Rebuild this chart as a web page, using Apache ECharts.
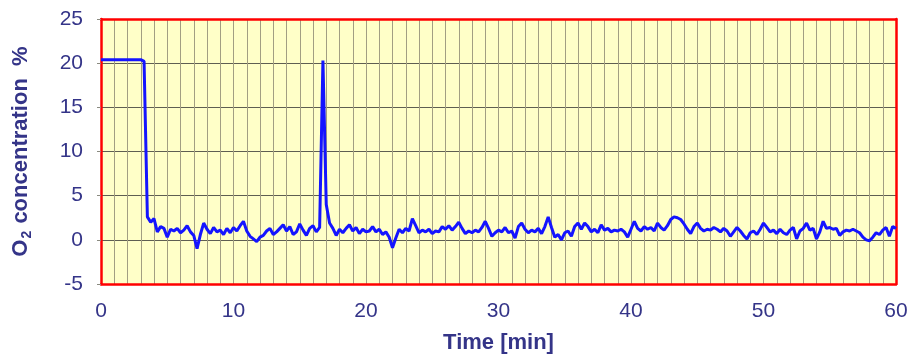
<!DOCTYPE html>
<html>
<head>
<meta charset="utf-8">
<title>O2 concentration</title>
<script src="https://cdn.jsdelivr.net/npm/echarts@6/dist/echarts.min.js"></script>
<style>
  html, body { margin: 0; padding: 0; background: #fff; }
  #chart { width: 911px; height: 359px; }
</style>
</head>
<body>
<div id="chart"></div>
<script>
  // sampling step of the trace, minutes
  var stepMin = 0.25;
  // O2 concentration (%), one row per minute (4 samples each)
  var o2Pct = [
    20.4, 20.4, 20.4, 20.4,   // 0
    20.4, 20.4, 20.4, 20.4,   // 1
    20.4, 20.4, 20.4, 20.4,   // 2
    20.4, 20.2, 2.6, 2.0,     // 3
    2.4, 0.9, 1.5, 1.3,       // 4
    0.3, 1.2, 1.0, 1.3,       // 5
    0.8, 1.1, 1.6, 0.9,       // 6
    0.5, -1.0, 0.6, 1.9,      // 7
    1.2, 0.7, 1.4, 0.9,       // 8
    1.1, 0.6, 1.3, 0.8,       // 9
    1.4, 1.0, 1.6, 2.1,       // 10
    1.0, 0.4, 0.1, -0.2,      // 11
    0.3, 0.5, 1.0, 1.3,       // 12
    0.6, 0.9, 1.3, 1.7,       // 13
    1.0, 1.5, 0.6, 0.9,       // 14
    1.8, 1.1, 0.5, 1.3,       // 15
    1.6, 0.9, 1.4, 20.3,      // 16
    4.0, 1.9, 1.3, 0.5,       // 17
    1.2, 0.8, 1.3, 1.7,       // 18
    1.0, 1.4, 0.7, 1.2,       // 19
    0.9, 1.0, 1.5, 0.9,       // 20
    1.2, 0.6, 0.9, 0.3,       // 21
    -0.9, 0.2, 1.2, 0.8,      // 22
    1.3, 1.0, 2.4, 1.6,       // 23
    0.8, 1.1, 0.9, 1.2,       // 24
    0.7, 1.0, 0.9, 1.5,       // 25
    1.2, 1.6, 1.1, 1.5,       // 26
    2.0, 1.3, 0.7, 1.0,       // 27
    0.8, 1.1, 0.9, 1.4,       // 28
    2.1, 1.3, 0.4, 0.8,       // 29
    1.1, 0.9, 1.4, 0.8,       // 30
    1.0, 0.2, 1.5, 1.9,       // 31
    1.2, 0.8, 1.1, 0.9,       // 32
    1.3, 0.7, 1.5, 2.6,       // 33
    1.4, 0.3, 0.6, 0.0,       // 34
    0.8, 1.0, 0.4, 1.5,       // 35
    1.9, 1.2, 1.9, 1.5,       // 36
    0.9, 1.2, 0.8, 1.7,       // 37
    1.1, 1.3, 0.9, 1.1,       // 38
    1.0, 1.2, 0.9, 0.3,       // 39
    1.2, 2.1, 1.3, 1.0,       // 40
    1.5, 1.2, 1.4, 1.0,       // 41
    1.9, 1.4, 1.1, 1.6,       // 42
    2.3, 2.6, 2.5, 2.3,       // 43
    1.8, 1.2, 0.7, 1.5,       // 44
    1.9, 1.3, 1.0, 1.2,       // 45
    1.1, 1.4, 1.2, 0.9,       // 46
    1.3, 1.0, 0.4, 0.9,       // 47
    1.4, 1.0, 0.5, 0.1,       // 48
    0.8, 1.0, 0.6, 1.2,       // 49
    1.9, 1.4, 0.9, 1.1,       // 50
    0.7, 1.2, 0.8, 0.6,       // 51
    1.1, 1.4, 0.1, 1.0,       // 52
    1.3, 1.9, 1.1, 1.3,       // 53
    0.1, 0.9, 2.1, 1.3,       // 54
    1.4, 1.2, 1.3, 0.5,       // 55
    0.9, 1.1, 1.0, 1.2,       // 56
    1.0, 0.8, 0.3, 0.0,       // 57
    -0.1, 0.3, 0.8, 0.6,      // 58
    1.1, 1.4, 0.4, 1.5,       // 59
    1.3                       // 60
  ];
  var xTicks = [0, 10, 20, 30, 40, 50, 60];
  var yTicks = [-5, 0, 5, 10, 15, 20, 25];

  var textColor = '#343488';
  var borderRed = { color: '#ff0000', width: 2.5 };
  var chart = echarts.init(document.getElementById('chart'));

  var points = o2Pct.map(function (v, i) { return [i * stepMin, v]; });

  var option = {
    animation: false,
    grid: {
      left: 101, right: 15, top: 19, bottom: 75,
      show: true,
      backgroundColor: '#ffffc8',
      borderWidth: 0
    },
    xAxis: [{
      type: 'value',
      min: xTicks[0],
      max: xTicks[xTicks.length - 1],
      interval: 10,
      name: 'Time [min]',
      nameLocation: 'middle',
      nameGap: 48,
      nameTextStyle: { color: textColor, fontSize: 22, fontWeight: 'bold', fontFamily: 'Liberation Sans' },
      axisLine: { show: true, onZero: false, lineStyle: borderRed },
      axisTick: { show: false },
      axisLabel: { color: textColor, fontSize: 21, margin: 17, fontFamily: 'Liberation Sans' },
      splitLine: { show: true, lineStyle: { color: '#a29e82', width: 1 } },
      minorTick: { show: false, splitNumber: 10 },
      minorSplitLine: { show: true, lineStyle: { color: '#a29e82', width: 1 } }
    }, {
      type: 'value',
      position: 'top',
      min: xTicks[0],
      max: xTicks[xTicks.length - 1],
      axisLine: { show: true, onZero: false, lineStyle: borderRed },
      axisTick: { show: false },
      axisLabel: { show: false },
      splitLine: { show: false }
    }],
    yAxis: [{
      type: 'value',
      min: yTicks[0],
      max: yTicks[yTicks.length - 1],
      interval: 5,
      name: '{a|O}{s|2}{a| concentration  %}',
      nameLocation: 'middle',
      nameGap: 67,
      nameTextStyle: {
        rich: {
          a: { color: textColor, fontSize: 22, fontWeight: 'bold', fontFamily: 'Liberation Sans', lineHeight: 26 },
          s: { color: textColor, fontSize: 14, fontWeight: 'bold', fontFamily: 'Liberation Sans', verticalAlign: 'bottom', lineHeight: 26, padding: [9, 1, 0, 1] }
        }
      },
      axisLine: { show: true, onZero: false, lineStyle: borderRed },
      axisTick: { show: true, length: 4, lineStyle: { color: '#8a8a80' } },
      axisLabel: { color: textColor, fontSize: 21, margin: 18, fontFamily: 'Liberation Sans' },
      splitLine: { show: true, lineStyle: { color: '#5e5e52', width: 1 } }
    }, {
      type: 'value',
      position: 'right',
      min: yTicks[0],
      max: yTicks[yTicks.length - 1],
      axisLine: { show: true, onZero: false, lineStyle: borderRed },
      axisTick: { show: false },
      axisLabel: { show: false },
      splitLine: { show: false }
    }],
    series: [{
      type: 'line',
      data: points,
      symbol: 'none',
      lineStyle: { color: '#1414ff', width: 3 },
      z: 3
    }]
  };
  chart.setOption(option);
</script>
</body>
</html>
